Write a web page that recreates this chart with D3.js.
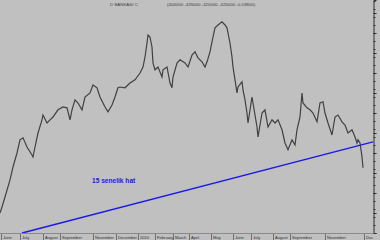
<!DOCTYPE html>
<html>
<head>
<meta charset="utf-8">
<script src="https://cdn.jsdelivr.net/npm/d3@7"></script>
<style>
  html, body { margin: 0; padding: 0; background: #c0c0c0; }
  svg { display: block; }
  text { font-family: "Liberation Sans", Arial, sans-serif; }
</style>
</head>
<body>
<div class="chart"></div>
<script>
// bar index (one bar per trading day) and closing price
const bars = [0, 2, 5, 10, 13, 17, 20, 23, 27, 32, 33, 35, 38, 42, 43, 47, 50, 53, 58, 63,
  67, 70, 72, 75, 78, 82, 85, 90, 93, 97, 100, 105, 108, 112, 115, 118, 120, 125, 130, 135,
  140, 143, 145, 147, 148, 150, 152, 153, 155, 158, 162, 163, 167, 170, 172, 173, 177, 180, 185, 188,
  192, 195, 198, 202, 205, 207, 210, 213, 215, 218, 222, 225, 227, 228, 230, 232, 233, 235, 237, 238,
  242, 243, 245, 247, 248, 252, 253, 257, 258, 262, 265, 268, 272, 275, 278, 282, 285, 288, 292, 295,
  297, 300, 302, 303, 307, 310, 313, 317, 320, 323, 325, 328, 332, 335, 338, 342, 345, 348, 352, 355,
  357, 358, 360, 362, 363];
const prices = [2.50, 2.65, 2.90, 3.33, 3.65, 4.00, 4.33, 4.38, 4.15, 3.95, 3.90, 4.15, 4.50, 4.83, 4.95, 4.75, 4.83, 4.90, 5.08, 5.15,
  5.13, 4.83, 5.08, 5.33, 5.25, 5.08, 5.40, 5.50, 5.70, 5.63, 5.40, 5.15, 5.03, 5.20, 5.40, 5.63, 5.65, 5.63, 5.75, 5.83,
  6.00, 6.15, 6.40, 6.75, 6.95, 6.90, 6.65, 6.25, 6.08, 6.15, 5.90, 6.08, 6.15, 5.75, 5.63, 5.90, 6.25, 6.33, 6.25, 6.15,
  6.45, 6.53, 6.38, 6.28, 6.15, 6.28, 6.53, 6.90, 7.13, 7.20, 7.28, 7.20, 7.13, 7.00, 6.75, 6.40, 6.15, 5.83, 5.50, 5.65,
  5.78, 5.58, 5.33, 5.00, 4.75, 5.40, 5.25, 4.65, 4.40, 5.00, 5.08, 4.65, 4.83, 4.75, 4.83, 4.58, 4.25, 4.08, 4.33, 4.20,
  4.58, 4.90, 5.50, 5.25, 5.13, 5.08, 5.00, 4.78, 5.25, 5.28, 5.00, 4.75, 4.45, 4.90, 4.95, 4.78, 4.70, 4.50, 4.58, 4.40,
  4.25, 4.33, 4.25, 3.90, 3.63];

// 15 year trend line
const trendBars = [22, 373];
const trendPrices = [2.00, 4.28];

// month labels on the time strip
const monthBars = [3, 22, 45, 62, 95, 118, 140, 157, 175, 191, 213, 235, 253, 275, 292, 327, 366];
const monthLabels = ["June", "July", "August", "September", "November", "December", "2010",
  "February", "March", "April", "May", "June", "July", "August", "September", "November", "Dec"];

const title = "D BANKASI C";
const quote = "(404000 -435000 -420000 -425000 -0.03800)";

const width = 380, height = 240;
const plotRight = 373, plotBottom = 233;

const svg = d3.select("div.chart").append("svg")
  .attr("width", width)
  .attr("height", height);

svg.append("rect")
  .attr("width", width)
  .attr("height", height)
  .attr("fill", "#c0c0c0");

const x = d3.scaleLinear().domain([0, 373]).range([0, plotRight]);
const y = d3.scaleLinear().domain([2.0, 7.825]).range([plotBottom, 0]);

// price series
const line = d3.line()
  .x(d => x(d[0]))
  .y(d => y(d[1]));

svg.append("path")
  .datum(d3.zip(bars, prices))
  .attr("fill", "none")
  .attr("stroke", "#404040")
  .attr("stroke-width", 1.2)
  .attr("stroke-linejoin", "miter")
  .attr("d", line);

// trend line
svg.append("path")
  .datum(d3.zip(trendBars, trendPrices))
  .attr("fill", "none")
  .attr("stroke", "#1a1ae6")
  .attr("stroke-width", 1.3)
  .attr("d", line);

svg.append("text")
  .attr("x", 92)
  .attr("y", 183)
  .attr("fill", "#1a1ae6")
  .style("font-size", "6.6px")
  .style("font-weight", "bold")
  .text("15 senelik hat");

// title
svg.append("text")
  .attr("x", 110)
  .attr("y", 6)
  .attr("fill", "#404040")
  .style("font-size", "4.4px")
  .text(title);

svg.append("text")
  .attr("x", 167)
  .attr("y", 6)
  .attr("fill", "#404040")
  .style("font-size", "4.4px")
  .text(quote);

// right price axis (labels fall outside the window, only ticks show)
const gy = svg.append("g")
  .attr("transform", `translate(${plotRight + 0.5},0)`)
  .call(d3.axisRight(y).ticks(12).tickSize(3).tickFormat(""));
gy.select(".domain").attr("stroke", "#303030");
gy.selectAll(".tick line").attr("stroke", "#303030");

const gyMinor = svg.append("g")
  .attr("transform", `translate(${plotRight + 0.5},0)`)
  .call(d3.axisRight(y).ticks(24).tickSize(2).tickFormat(""));
gyMinor.select(".domain").remove();
gyMinor.selectAll(".tick line").attr("stroke", "#303030");

// bottom time strip
svg.append("line")
  .attr("x1", 0)
  .attr("x2", plotRight + 0.5)
  .attr("y1", plotBottom + 0.5)
  .attr("y2", plotBottom + 0.5)
  .attr("stroke", "#8a8a8a");

const strip = svg.append("g");
strip.selectAll("line.sep")
  .data(monthBars)
  .join("line")
  .attr("class", "sep")
  .attr("x1", d => Math.round(x(d)) - 1.5)
  .attr("x2", d => Math.round(x(d)) - 1.5)
  .attr("y1", plotBottom + 1)
  .attr("y2", height)
  .attr("stroke", "#707070");

strip.selectAll("text")
  .data(monthBars)
  .join("text")
  .attr("x", d => x(d))
  .attr("y", height - 1)
  .attr("fill", "#303030")
  .style("font-size", "4.1px")
  .text((d, i) => monthLabels[i]);
</script>
</body>
</html>
